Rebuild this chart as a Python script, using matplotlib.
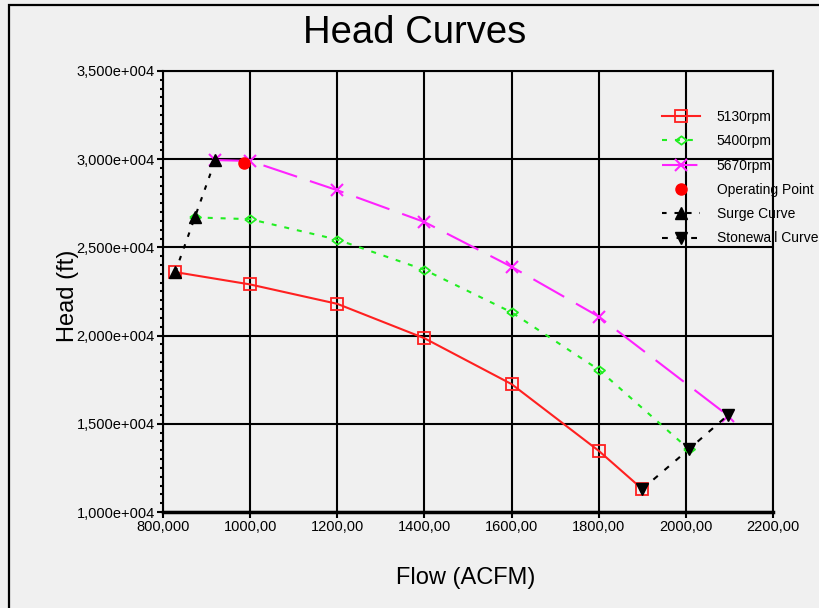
import numpy as np
import matplotlib
matplotlib.use("Agg")
import matplotlib.pyplot as plt
from matplotlib.patches import Rectangle
from matplotlib.ticker import FuncFormatter, MultipleLocator

plt.rcParams['font.family'] = ['Liberation Sans', 'DejaVu Sans']

# data
flow_5130 = [828, 1000, 1200, 1400, 1600, 1800, 1900]
head_5130 = [23600, 22900, 21800, 19850, 17250, 13470, 11300]

flow_5400 = [873, 1000, 1200, 1400, 1600, 1800, 2007]
head_5400 = [26700, 26600, 25440, 23730, 21320, 18070, 13560]

flow_5670 = [920, 1000, 1200, 1400, 1600, 1800, 2097]
head_5670 = [29950, 29900, 28240, 26440, 23900, 21080, 15460]

op_flow = [986]
op_head = [29790]

surge_flow = [828, 873, 920]
surge_head = [23600, 26700, 29950]

stone_flow = [1900, 2007, 2097]
stone_head = [11300, 13560, 15500]

labels = ['5130rpm', '5400rpm', '5670rpm', 'Operating Point', 'Surge Curve', 'Stonewall Curve']

bg = '#f0f0f0'
fig = plt.figure(figsize=(8.2, 6.08), dpi=100, facecolor=bg)
ax = fig.add_axes([163/820, 1 - 512/608, 610/820, 441/608], facecolor=bg)

diamond = [(-1, 0), (0, 0.75), (1, 0), (0, -0.75), (-1, 0)]

ax.plot(flow_5130, head_5130, '-', color='#ff2020', lw=1.5, marker='s', ms=8,
        mfc='none', mec='#ff2020', mew=1.3, label=labels[0], zorder=3)
ax.plot(flow_5400, head_5400, color='#22ee22', lw=1.5, dashes=(2.4, 3.8), marker=diamond, ms=8,
        mfc='none', mec='#22ee22', mew=1.3, label=labels[1], zorder=3)
ax.plot(flow_5670, head_5670, color='#ff22ff', lw=1.5, dashes=(17, 6.5), marker='x', ms=8,
        mec='#ff22ff', mew=1.5, label=labels[2], zorder=3)
ax.plot(op_flow, op_head, 'o', color='red', ms=8, label=labels[3], zorder=5)
ax.plot(surge_flow, surge_head, color='black', lw=1.5, dashes=(2.2, 3.8), marker='^', ms=8,
        label=labels[4], zorder=4)
ax.plot(stone_flow, stone_head, color='black', lw=1.5, dashes=(2.8, 4.2), marker='v', ms=8,
        label=labels[5], zorder=4)

ax.set_xlim(800, 2200)
ax.set_ylim(10000, 35000)
ax.xaxis.set_major_locator(MultipleLocator(200))
ax.yaxis.set_major_locator(MultipleLocator(5000))
ax.yaxis.set_minor_locator(MultipleLocator(500))


def yfmt(v, pos):
    e = int(np.floor(np.log10(v)))
    return f"{v / 10**e:.3f}e+{e:03d}".replace('.', ',')


def xfmt(v, pos):
    return f"{v:#.6g}".replace('.', ',')


ax.yaxis.set_major_formatter(FuncFormatter(yfmt))
ax.xaxis.set_major_formatter(FuncFormatter(xfmt))
ax.tick_params(axis='both', which='major', direction='out', length=4, width=1.5,
               labelsize=10.5, pad=2, color='black')
ax.tick_params(axis='y', which='minor', direction='out', length=2.5, width=1.5)

ax.grid(True, which='major', color='black', lw=1.5)
for side in ['top', 'right', 'left']:
    ax.spines[side].set_linewidth(1.5)
ax.spines['bottom'].set_linewidth(2.5)

leg = ax.legend(loc='upper left', bbox_to_anchor=(662/820, 1 - 110/608),
                bbox_transform=fig.transFigure, frameon=False, fontsize=10,
                numpoints=1, handlelength=2.7, handletextpad=1.25,
                labelspacing=0.74, borderpad=0, borderaxespad=0)

fig.text(415/820, 1 - 33/608, 'Head Curves', fontsize=27.5, ha='center', va='center')
fig.text(466/820, 1 - 578/608, 'Flow (ACFM)', fontsize=17, ha='center', va='center')
fig.text(68/820, 1 - 296/608, 'Head (ft)', fontsize=17, ha='center', va='center', rotation=90)

# outer frame of the chart control
fig.patches.append(Rectangle((9/820, -0.1), 1.2, 1 - 5/608 + 0.1, transform=fig.transFigure,
                             fill=False, ec='black', lw=1.6))

fig.savefig('out.png', dpi=100, facecolor=bg)
